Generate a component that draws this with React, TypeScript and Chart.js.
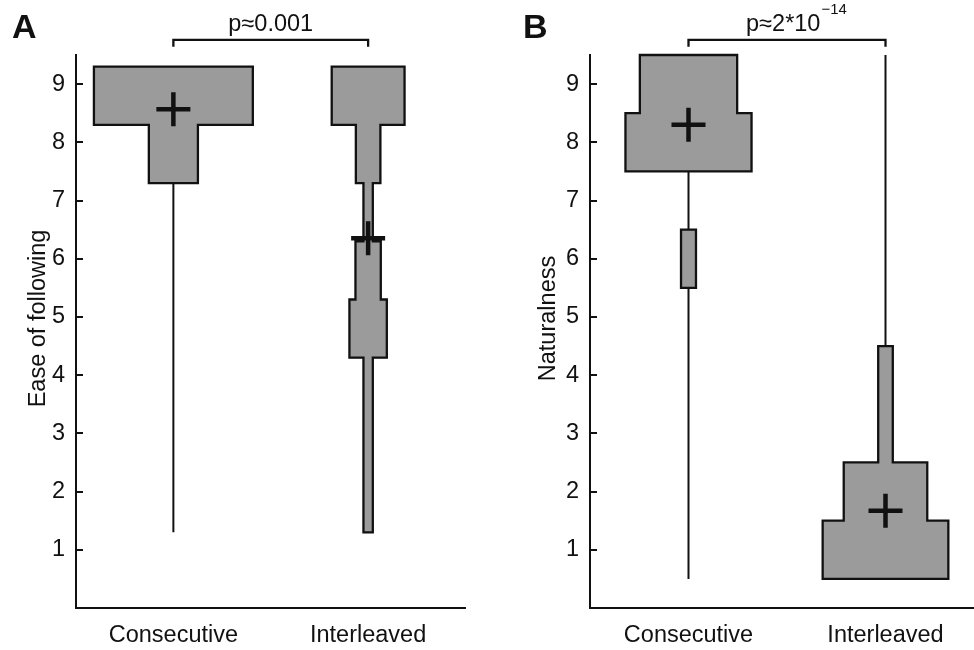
import React, { useEffect, useRef } from "react";
import { Chart, registerables } from "chart.js";
Chart.register(...registerables);

const FONT = '"Liberation Sans", Arial, Helvetica, sans-serif';
Chart.defaults.font.family = FONT;

// ---------- data ----------
const categories = ["Consecutive", "Interleaved"];
const categoryPos = [0.5, 1.5];
const yTicks = [1, 2, 3, 4, 5, 6, 7, 8, 9];
const BIN_HEIGHT = 1;

// Panel A: "Ease of following" (bins listed top to bottom by lower edge)
const binLowA = [8.3, 7.3, 6.3, 5.3, 4.3, 3.3, 2.3, 1.3];
const halfWidthA_Consecutive = [0.408, 0.126, 0, 0, 0, 0, 0, 0];
const halfWidthA_Interleaved = [0.187, 0.063, 0.024, 0.065, 0.096, 0.024, 0.024, 0.024];
const rangeA_Consecutive = [1.3, 9.3];
const rangeA_Interleaved = [1.3, 9.3];
const meansA = [8.57, 6.35];
const pMainA = "p≈0.001";
const pSupA = "";

// Panel B: "Naturalness"
const binLowB = [8.5, 7.5, 6.5, 5.5, 4.5, 3.5, 2.5, 1.5, 0.5];
const halfWidthB_Consecutive = [0.247, 0.32, 0, 0.038, 0, 0, 0, 0, 0];
const halfWidthB_Interleaved = [0, 0, 0, 0, 0, 0.037, 0.037, 0.212, 0.319];
const rangeB_Consecutive = [0.5, 9.5];
const rangeB_Interleaved = [0.5, 9.5];
const meansB = [8.3, 1.67];
const pMainB = "p≈2*10";
const pSupB = "−14";

const bracketLow = 9.64;
const bracketTop = 9.76;

// ---------- styles ----------
const INK = "#111111";
const GRAY = "#9b9b9b";
const FS = 23.5;

type Bin = { lo: number; hi: number; h: number };

function runsOf(binLow: number[], halves: number[]): Bin[][] {
  const runs: Bin[][] = [];
  let cur: Bin[] = [];
  binLow.forEach((lo, i) => {
    const h = halves[i];
    if (h > 0) cur.push({ lo, hi: lo + BIN_HEIGHT, h });
    else if (cur.length) {
      runs.push(cur);
      cur = [];
    }
  });
  if (cur.length) runs.push(cur);
  return runs;
}

function outline(c: number, run: Bin[]) {
  const top = run[0].hi;
  const pts: { x: number; y: number }[] = [{ x: c, y: top }];
  run.forEach((b) => {
    pts.push({ x: c + b.h, y: b.hi });
    pts.push({ x: c + b.h, y: b.lo });
  });
  for (let i = run.length - 1; i >= 0; i--) {
    const b = run[i];
    pts.push({ x: c - b.h, y: b.lo });
    pts.push({ x: c - b.h, y: b.hi });
  }
  pts.push({ x: c, y: top });
  return pts;
}

function buildDatasets(binLow: number[], halves: number[][], ranges: number[][], means: number[]) {
  const ds: any[] = [];
  halves.forEach((hw, g) => {
    const c = categoryPos[g];
    // whisker (range), drawn behind
    ds.push({
      type: "scatter",
      data: [
        { x: c, y: ranges[g][0] },
        { x: c, y: ranges[g][1] },
      ],
      showLine: true,
      borderColor: INK,
      borderWidth: 2,
      pointRadius: 0,
      order: 3,
      clip: false,
    });
    // histogram bins as horizontal floating bars
    const bars = binLow
      .map((lo, i) => ({ lo, h: hw[i] }))
      .filter((b) => b.h > 0)
      .map((b) => ({ y: b.lo + BIN_HEIGHT / 2, x: [c - b.h, c + b.h] }));
    ds.push({
      type: "bar",
      indexAxis: "y",
      data: bars,
      backgroundColor: GRAY,
      borderWidth: 0,
      barPercentage: 1,
      categoryPercentage: 1,
      grouped: false,
      inflateAmount: 0.5,
      order: 2,
      clip: false,
    });
    // outline of each contiguous run
    runsOf(binLow, hw).forEach((run) => {
      ds.push({
        type: "scatter",
        data: outline(c, run),
        showLine: true,
        borderColor: INK,
        borderWidth: 2.3,
        borderJoinStyle: "miter",
        pointRadius: 0,
        order: 1,
        clip: false,
      });
    });
    // mean cross
    ds.push({
      type: "scatter",
      data: [{ x: c, y: means[g] }],
      pointStyle: "cross",
      pointRadius: 17,
      pointBorderWidth: 4.5,
      borderWidth: 4.5,
      pointBorderColor: INK,
      pointBackgroundColor: INK,
      order: 0,
      clip: false,
    });
  });
  // significance bracket
  ds.push({
    type: "scatter",
    data: [
      { x: categoryPos[0], y: bracketLow },
      { x: categoryPos[0], y: bracketTop },
      { x: categoryPos[1], y: bracketTop },
      { x: categoryPos[1], y: bracketLow },
    ],
    showLine: true,
    borderColor: INK,
    borderWidth: 2.3,
    borderJoinStyle: "miter",
    pointRadius: 0,
    order: 0,
    clip: false,
  });
  return ds;
}

// p-value label above the bracket and the rotated y-axis title
const textPlugin = {
  id: "panelText",
  afterDatasetsDraw(chart: any, _args: any, opts: any) {
    const { ctx, scales, chartArea } = chart;
    const x = scales.x;
    const y = scales.y;
    const cx = (x.getPixelForValue(categoryPos[0]) + x.getPixelForValue(categoryPos[1])) / 2;
    const base = y.getPixelForValue(bracketTop) - 9;
    ctx.save();
    ctx.fillStyle = INK;
    ctx.textBaseline = "alphabetic";
    ctx.textAlign = "left";
    ctx.font = `${FS}px ${FONT}`;
    const mainW = ctx.measureText(opts.main).width;
    ctx.font = `15px ${FONT}`;
    const supW = opts.sup ? ctx.measureText(opts.sup).width : 0;
    const left = cx - (mainW + supW) / 2 + (opts.shift || 0);
    ctx.font = `${FS}px ${FONT}`;
    ctx.fillText(opts.main, left, base);
    if (opts.sup) {
      ctx.font = `15px ${FONT}`;
      ctx.fillText(opts.sup, left + mainW + 1, base - 17);
    }
    // y title
    ctx.font = `${FS}px ${FONT}`;
    ctx.textAlign = "center";
    ctx.translate(chartArea.left - opts.titleGap, (chartArea.top + chartArea.bottom) / 2 - 13);
    ctx.rotate(-Math.PI / 2);
    ctx.fillText(opts.yTitle, 0, 0);
    ctx.restore();
  },
};

function makeConfig(p: any) {
  const font = { size: FS, family: FONT };
  return {
    type: "scatter",
    data: { datasets: buildDatasets(p.binLow, p.halves, p.ranges, p.means) },
    plugins: [textPlugin],
    options: {
      animation: false,
      responsive: false,
      events: [],
      layout: { padding: p.padding },
      plugins: {
        legend: { display: false },
        tooltip: { enabled: false },
        panelText: { main: p.pMain, sup: p.pSup, shift: p.shift, yTitle: p.yTitle, titleGap: p.titleGap },
      },
      scales: {
        x: {
          type: "linear",
          min: 0,
          max: 2,
          offset: false,
          afterBuildTicks: (axis: any) => {
            axis.ticks = categoryPos.map((v) => ({ value: v }));
          },
          afterFit: (axis: any) => {
            axis.height = 42;
          },
          ticks: {
            autoSkip: false,
            maxRotation: 0,
            padding: 13,
            color: INK,
            font,
            callback: (v: any) => {
              const i = categoryPos.indexOf(Number(v));
              return i >= 0 ? categories[i] : "";
            },
          },
          grid: { display: false, drawTicks: false, offset: false },
          border: { display: true, color: INK, width: 2 },
        },
        y: {
          type: "linear",
          min: 0,
          max: 9.5,
          offset: false,
          afterBuildTicks: (axis: any) => {
            axis.ticks = yTicks.map((v) => ({ value: v }));
          },
          afterFit: (axis: any) => {
            axis.width = p.yWidth;
          },
          ticks: {
            autoSkip: false,
            padding: 18,
            color: INK,
            font,
            callback: (v: any) => String(v),
          },
          grid: {
            display: true,
            drawOnChartArea: false,
            drawTicks: true,
            tickLength: -7,
            color: INK,
            lineWidth: 2,
            offset: false,
          },
          border: { display: true, color: INK, width: 2 },
          title: { display: false },
        },
      },
    },
  };
}

const panelA = {
  binLow: binLowA,
  halves: [halfWidthA_Consecutive, halfWidthA_Interleaved],
  ranges: [rangeA_Consecutive, rangeA_Interleaved],
  means: meansA,
  yTitle: "Ease of following",
  pMain: pMainA,
  pSup: pSupA,
  shift: 0,
  titleGap: 31.5,
  yWidth: 76,
  padding: { left: 0, right: 18, top: 55, bottom: 0 },
};

const panelB = {
  binLow: binLowB,
  halves: [halfWidthB_Consecutive, halfWidthB_Interleaved],
  ranges: [rangeB_Consecutive, rangeB_Interleaved],
  means: meansB,
  yTitle: "Naturalness",
  pMain: pMainB,
  pSup: pSupB,
  shift: 9,
  titleGap: 35.5,
  yWidth: 78,
  padding: { left: 25, right: 23, top: 55, bottom: 0 },
};

export default function App() {
  const refA = useRef<HTMLCanvasElement | null>(null);
  const refB = useRef<HTMLCanvasElement | null>(null);

  useEffect(() => {
    const a = new Chart(refA.current as HTMLCanvasElement, makeConfig(panelA) as any);
    const b = new Chart(refB.current as HTMLCanvasElement, makeConfig(panelB) as any);
    return () => {
      a.destroy();
      b.destroy();
    };
  }, []);

  const letter: React.CSSProperties = {
    position: "absolute",
    top: 9,
    fontFamily: FONT,
    fontWeight: "bold",
    fontSize: 34,
    lineHeight: 1,
    color: INK,
  };

  return (
    <div
      style={{
        position: "absolute",
        left: 0,
        top: 0,
        width: 974,
        height: 650,
        overflow: "hidden",
        background: "#fff",
      }}
    >
      <div style={{ position: "absolute", left: 0, top: 0, width: 487, height: 650 }}>
        <canvas ref={refA} width={487} height={650} style={{ display: "block" }} />
      </div>
      <div style={{ position: "absolute", left: 487, top: 0, width: 520, height: 650 }}>
        <canvas ref={refB} width={520} height={650} style={{ display: "block" }} />
      </div>
      <div style={{ ...letter, left: 12 }}>A</div>
      <div style={{ ...letter, left: 523 }}>B</div>
    </div>
  );
}
